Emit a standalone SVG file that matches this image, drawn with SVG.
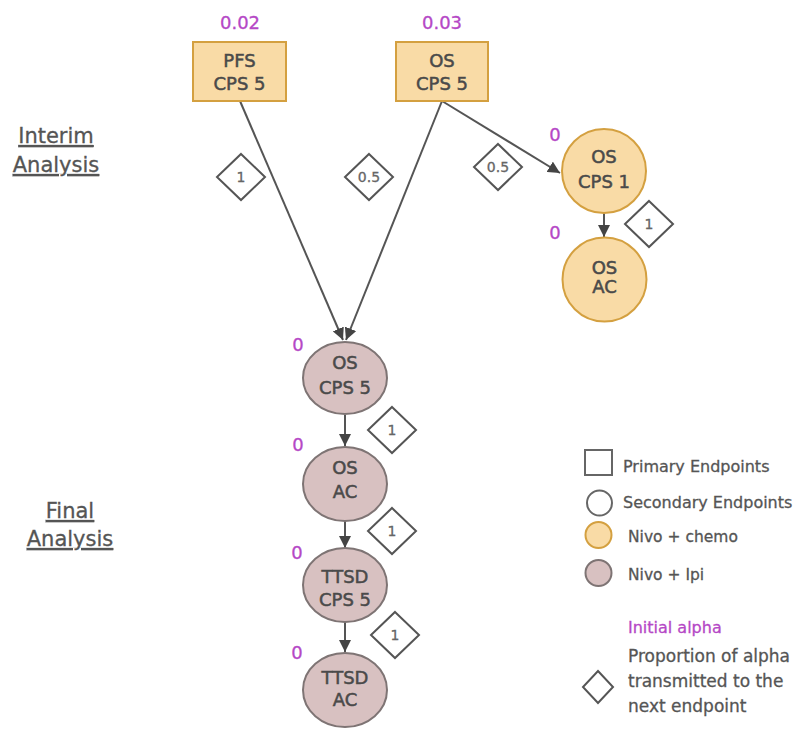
<svg xmlns="http://www.w3.org/2000/svg" width="795" height="731" viewBox="0 0 795 731">
<style>
text{font-family:"DejaVu Sans","Liberation Sans",sans-serif;}
.nt{font-size:18px;fill:#4a4a4a;stroke:#4a4a4a;stroke-width:0.5;text-anchor:middle;}
.al{font-size:18px;fill:#b548c6;stroke:#b548c6;stroke-width:0.3;text-anchor:middle;}
.dl{font-size:14px;fill:#666;stroke:#666;stroke-width:0.3;text-anchor:middle;}
.ttl{font-size:21px;fill:#555;stroke:#555;stroke-width:0.3;text-anchor:middle;text-decoration:underline;}
.lg{font-size:16px;fill:#555;stroke:#555;stroke-width:0.3;}
.box{fill:#f9dba6;stroke:#d4a040;stroke-width:2;}
.chemo{fill:#f9dba6;stroke:#d4a040;stroke-width:2;}
.ipi{fill:#d8c1c1;stroke:#7e7474;stroke-width:2;}
.dia{fill:#fff;stroke:#555;stroke-width:2;}
.ln{stroke:#555;stroke-width:2;fill:none;marker-end:url(#ah);}
</style>
<defs>
<marker id="ah" markerUnits="userSpaceOnUse" markerWidth="14" markerHeight="12" refX="12" refY="6" orient="auto">
<path d="M0,0 L12,6 L0,12 Z" fill="#444"/>
</marker>
</defs>
<rect width="795" height="731" fill="#fff"/>

<g id="titles">
<text class="ttl" x="56" y="143">Interim</text>
<text class="ttl" x="56" y="172">Analysis</text>
<text class="ttl" x="70" y="518">Final</text>
<text class="ttl" x="70" y="546">Analysis</text>
</g>

<g id="connectors">
<line class="ln" x1="240" y1="101" x2="343" y2="340"/>
<line class="ln" x1="442" y1="101" x2="346" y2="340"/>
<line class="ln" x1="442" y1="101" x2="560" y2="173"/>
<line class="ln" x1="604" y1="212" x2="604" y2="237"/>
<line class="ln" x1="345" y1="415" x2="345" y2="446"/>
<line class="ln" x1="345" y1="520" x2="345" y2="548"/>
<line class="ln" x1="345" y1="622" x2="345" y2="652"/>
</g>

<g id="node-pfs-cps5">
<text class="al" x="240" y="29">0.02</text>
<rect class="box" x="193" y="42" width="93" height="59"/>
<text class="nt" x="239.5" y="67">PFS</text>
<text class="nt" x="239.5" y="90">CPS 5</text>
</g>
<g id="node-os-cps5-box">
<text class="al" x="442" y="29">0.03</text>
<rect class="box" x="396" y="42" width="92" height="59"/>
<text class="nt" x="442" y="67">OS</text>
<text class="nt" x="442" y="90">CPS 5</text>
</g>
<g id="node-os-cps1">
<text class="al" x="555" y="141">0</text>
<circle class="chemo" cx="604" cy="171" r="42"/>
<text class="nt" x="604" y="163">OS</text>
<text class="nt" x="604" y="188">CPS 1</text>
</g>
<g id="node-os-ac-chemo">
<text class="al" x="555" y="239">0</text>
<circle class="chemo" cx="604.5" cy="279.5" r="42"/>
<text class="nt" x="604.5" y="274">OS</text>
<text class="nt" x="604.5" y="293">AC</text>
</g>
<g id="node-os-cps5-ipi">
<text class="al" x="298" y="351">0</text>
<ellipse class="ipi" cx="345" cy="378" rx="42" ry="36"/>
<text class="nt" x="345" y="369">OS</text>
<text class="nt" x="345" y="394">CPS 5</text>
</g>
<g id="node-os-ac-ipi">
<text class="al" x="298" y="451">0</text>
<ellipse class="ipi" cx="345" cy="484" rx="42" ry="37"/>
<text class="nt" x="345" y="474">OS</text>
<text class="nt" x="345" y="498">AC</text>
</g>
<g id="node-ttsd-cps5">
<text class="al" x="297" y="559">0</text>
<ellipse class="ipi" cx="345" cy="585" rx="42" ry="37"/>
<text class="nt" x="345" y="583">TTSD</text>
<text class="nt" x="345" y="606">CPS 5</text>
</g>
<g id="node-ttsd-ac">
<text class="al" x="297" y="659">0</text>
<ellipse class="ipi" cx="345" cy="690" rx="42" ry="37"/>
<text class="nt" x="345" y="684">TTSD</text>
<text class="nt" x="345" y="706">AC</text>
</g>

<g id="weights">
<polygon class="dia" points="241,154 265,177 241,200 217,177"/>
<text class="dl" x="241" y="182">1</text>
<polygon class="dia" points="369,154 393,177 369,200 345,177"/>
<text class="dl" x="369" y="182">0.5</text>
<polygon class="dia" points="498,144 522,167 498,190 474,167"/>
<text class="dl" x="498" y="172">0.5</text>
<polygon class="dia" points="649,201 673,224 649,247 625,224"/>
<text class="dl" x="649" y="229">1</text>
<polygon class="dia" points="392,407 416,430 392,453 368,430"/>
<text class="dl" x="392" y="435">1</text>
<polygon class="dia" points="392,508 416,531 392,554 368,531"/>
<text class="dl" x="392" y="536">1</text>
<polygon class="dia" points="395,612 419,635 395,658 371,635"/>
<text class="dl" x="395" y="640">1</text>
</g>

<g id="legend">
<rect x="585" y="450" width="27" height="25" fill="#fff" stroke="#666" stroke-width="2"/>
<text class="lg" x="623" y="472">Primary Endpoints</text>
<circle cx="599.5" cy="503" r="12.5" fill="#fff" stroke="#666" stroke-width="2"/>
<text class="lg" x="623" y="508">Secondary Endpoints</text>
<circle class="chemo" cx="598.5" cy="535" r="13"/>
<text class="lg" x="628" y="542" style="font-size:15.5px">Nivo + chemo</text>
<circle class="ipi" cx="598.5" cy="573" r="13"/>
<text class="lg" x="628" y="580" style="font-size:15.5px">Nivo + Ipi</text>
<text class="lg" x="628" y="633" style="fill:#b548c6;stroke:#b548c6">Initial alpha</text>
<polygon class="dia" points="598,671 613,687 598,703 583,687"/>
<text class="lg" x="628" y="662" style="font-size:17px">Proportion of alpha</text>
<text class="lg" x="628" y="687" style="font-size:17px">transmitted to the</text>
<text class="lg" x="628" y="712" style="font-size:17px">next endpoint</text>
</g>
</svg>
